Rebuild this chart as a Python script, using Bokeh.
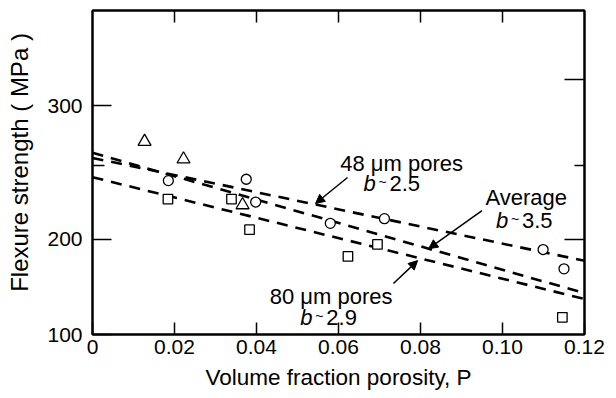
from bokeh.plotting import figure
from bokeh.models import (Range1d, LogAxis, LinearAxis, FixedTicker, Label,
                          Arrow, NormalHead)
from bokeh.embed import file_html
from bokeh.resources import INLINE

# ---------------- data ----------------
tri_P = [0.0127, 0.0222, 0.0366]
tri_S = [269, 255, 222]

circ_P = [0.0185, 0.0375, 0.0398, 0.0580, 0.0712, 0.1099, 0.1150]
circ_S = [239, 240, 224, 210, 213, 194, 183]

sq_P = [0.0184, 0.0339, 0.0383, 0.0623, 0.0695, 0.1146]
sq_S = [226, 226, 206, 190, 197, 158]

fit_P = [0.0, 0.12]
fit_48um = [256.0, 187.5]
fit_avg = [260.0, 170.0]
fit_80um = [241.5, 167.0]

x_ticks = [0, 0.02, 0.04, 0.06, 0.08, 0.10, 0.12]
x_tick_labels = ["0", "0.02", "0.04", "0.06", "0.08", "0.10", "0.12"]
y_ticks = [150, 200, 300]
y_tick_labels = ["100", "200", "300"]
y_minor = [250]
right_ticks = [200, 325]
top_ticks = [0.02, 0.04, 0.06, 0.08, 0.10]

FONT = "Liberation Sans"

p = figure(width=616, height=398,
           x_range=Range1d(0, 0.12), y_range=Range1d(150, 400),
           y_axis_type="log",
           output_backend="svg", toolbar_location=None,
           min_border_left=92, min_border_right=32,
           min_border_top=10, min_border_bottom=64)
p.background_fill_color = "white"
p.border_fill_color = "white"
p.outline_line_color = "black"
p.outline_line_width = 2
p.xgrid.visible = False
p.ygrid.visible = False

# bottom axis
xa = p.xaxis[0]
xa.ticker = FixedTicker(ticks=x_ticks, minor_ticks=[])
xa.major_label_overrides = {t: s for t, s in zip(x_ticks, x_tick_labels)}
xa.major_tick_in = 12
xa.major_tick_out = 0
xa.minor_tick_in = 0
xa.minor_tick_out = 0
xa.major_tick_line_width = 1.5
xa.axis_line_width = 2
xa.major_label_standoff = 5
xa.major_label_text_font = FONT
xa.major_label_text_font_size = "21px"
xa.major_label_text_color = "black"
xa.axis_label = "Volume fraction porosity, P"
xa.axis_label_text_font = FONT
xa.axis_label_text_font_size = "22.5px"
xa.axis_label_text_font_style = "normal"
xa.axis_label_text_color = "black"
xa.axis_label_standoff = 8

# left axis
ya = p.yaxis[0]
ya.ticker = FixedTicker(ticks=y_ticks, minor_ticks=y_minor)
ya.major_label_overrides = {t: s for t, s in zip(y_ticks, y_tick_labels)}
ya.major_tick_in = 19
ya.major_tick_out = 0
ya.minor_tick_in = 12
ya.minor_tick_out = 0
ya.major_tick_line_width = 1.5
ya.minor_tick_line_width = 1.5
ya.axis_line_width = 2
ya.major_label_standoff = 10
ya.major_label_text_font = FONT
ya.major_label_text_font_size = "21px"
ya.major_label_text_color = "black"
# y title as axis label, shifted upward with leading no-break spaces
ya.axis_label = "\u00a0\u00a0\u00a0Flexure strength ( MPa )"
ya.axis_label_text_font = FONT
ya.axis_label_text_font_size = "24px"
ya.axis_label_text_font_style = "normal"
ya.axis_label_text_color = "black"
ya.axis_label_standoff = 11

# right axis (ticks only)
ra = LogAxis(ticker=FixedTicker(ticks=right_ticks, minor_ticks=y_minor),
             major_label_overrides={t: "" for t in right_ticks},
             major_label_text_font_size="0px", major_label_standoff=0,
             major_tick_in=20, major_tick_out=0, minor_tick_in=10, minor_tick_out=0,
             major_tick_line_width=1.5, minor_tick_line_width=1.5, axis_line_width=2)
p.add_layout(ra, "right")

# top axis (ticks only)
ta = LinearAxis(ticker=FixedTicker(ticks=top_ticks, minor_ticks=[]),
                major_label_overrides={t: "" for t in top_ticks},
                major_label_text_font_size="0px", major_label_standoff=0,
                major_tick_in=12, major_tick_out=0, minor_tick_in=0, minor_tick_out=0,
                major_tick_line_width=1.5, axis_line_width=2)
p.add_layout(ta, "above")

# fitted dashed lines
for ys in (fit_48um, fit_avg, fit_80um):
    p.line(fit_P, ys, line_color="black", line_width=2.6, line_dash="11 8")

# data markers
p.scatter(tri_P, tri_S, marker="triangle", size=13, fill_color="white",
          line_color="black", line_width=1.3)
p.scatter(circ_P, circ_S, marker="circle", size=10, fill_color="white",
          line_color="black", line_width=1.3)
p.scatter(sq_P, sq_S, marker="square", size=9.5, fill_color="white",
          line_color="black", line_width=1.3)

# arrows
for (x0, y0, x1, y1) in [(0.0622, 241.3, 0.0544, 223.0),
                         (0.0950, 218.3, 0.0820, 194.5),
                         (0.0734, 175.0, 0.0793, 187.6)]:
    p.add_layout(Arrow(x_start=x0, y_start=y0, x_end=x1, y_end=y1,
                       line_width=1.5, line_color="black",
                       end=NormalHead(size=9, fill_color="black", line_color="black")))


def lab(text, x, y, size="22px", align="left", style="normal", xo=0, yo=0):
    p.add_layout(Label(x=x, y=y, text=text,
                       text_font=FONT, text_font_size=size,
                       text_align=align, text_baseline="alphabetic",
                       text_font_style=style, text_color="black",
                       x_offset=xo, y_offset=yo))


def bval(x, y, num):
    lab("b", x, y, style="italic")
    lab("~", x, y, size="14px", xo=15, yo=2)
    lab(num, x, y, xo=26)


lab("48 μm pores", 0.0754, 251.8, align="center")
bval(0.0661, 236.7, "2.5")
lab("Average", 0.1058, 227.1, align="center")
bval(0.0984, 211.8, "3.5")
lab("80 μm pores", 0.0582, 168.3, align="center")
bval(0.0507, 157.8, "2.9")

open("out.html", "w").write(file_html(p, INLINE))
